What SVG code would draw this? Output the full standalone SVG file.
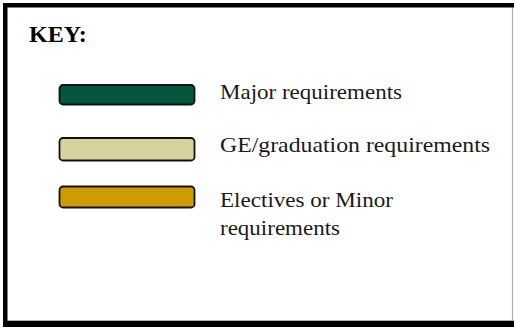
<svg xmlns="http://www.w3.org/2000/svg" width="514" height="328" viewBox="0 0 514 328">
<style>
.t{font-family:"Liberation Serif","Times New Roman",serif;font-size:21px;fill:#1a1a1a}
.k{font-family:"Liberation Serif","Times New Roman",serif;font-size:24px;font-weight:bold;fill:#000}
.sw{stroke:#111;stroke-width:1.8}
</style>
<rect x="0" y="0" width="514" height="328" fill="#fff"/>
<g id="frame">
<line x1="512.5" y1="6" x2="512.5" y2="322" stroke="#b0b0b0" stroke-width="1.2"/>
<line x1="6" y1="320.5" x2="514" y2="320.5" stroke="#b0b0b0" stroke-width="1"/>
<rect x="3" y="3" width="511" height="4.5" fill="#000"/>
<rect x="3" y="3" width="4.5" height="324" fill="#000"/>
<rect x="3" y="321" width="511" height="6" fill="#000"/>
</g>
<g id="title"><text class="k" x="29" y="42">KEY:</text></g>
<g id="major">
<rect class="sw" x="59.5" y="85" width="135" height="19.5" rx="3.5" fill="#04573E"/>
<text class="t" x="220" y="99" textLength="182" lengthAdjust="spacingAndGlyphs">Major requirements</text>
</g>
<g id="ge">
<rect class="sw" x="59.5" y="138" width="135" height="22.5" rx="3.5" fill="#D6D29E"/>
<text class="t" x="220" y="152" textLength="270" lengthAdjust="spacingAndGlyphs">GE/graduation requirements</text>
</g>
<g id="electives">
<rect class="sw" x="59.5" y="186.5" width="135" height="21" rx="3.5" fill="#CC9C00"/>
<text class="t" x="220" y="207" textLength="173" lengthAdjust="spacingAndGlyphs">Electives or Minor</text>
<text class="t" x="220" y="235" textLength="120" lengthAdjust="spacingAndGlyphs">requirements</text>
</g>
</svg>
